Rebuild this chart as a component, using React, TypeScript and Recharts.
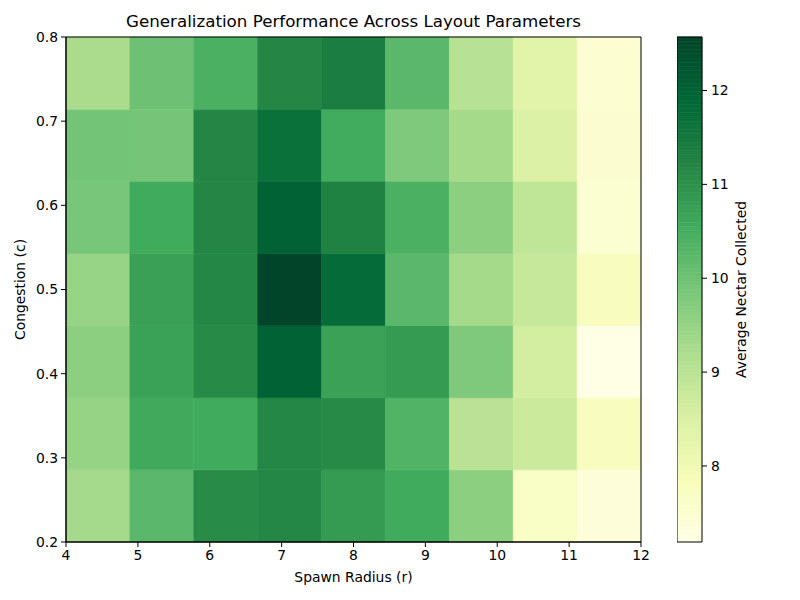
import React from 'react';
import { ComposedChart, XAxis, YAxis, ReferenceArea, Label } from 'recharts';

// spawn radius ticks (x) and congestion ticks (y)
const radiusTicks = [4, 5, 6, 7, 8, 9, 10, 11, 12];
const congestionTicks = [0.2, 0.3, 0.4, 0.5, 0.6, 0.7, 0.8];
const cbTicks = [8, 9, 10, 11, 12];

// average nectar collected, one row per congestion bin (bottom -> top), 9 radius bins each
const row020 = [9.31, 10.23, 11.1, 11.18, 10.83, 10.55, 9.63, 7.66, 7.37];
const row030 = [9.5, 10.58, 10.55, 11.17, 11.12, 10.36, 9.02, 8.75, 7.78];
const row040 = [9.63, 10.71, 11.12, 12.01, 10.72, 10.83, 9.8, 8.61, 7.19];
const row050 = [9.48, 10.74, 11.18, 12.57, 11.8, 10.23, 9.29, 8.82, 7.78];
const row060 = [9.88, 10.55, 11.2, 12.01, 11.28, 10.42, 9.63, 8.93, 7.5];
const row070 = [9.93, 9.92, 11.2, 11.68, 10.54, 9.8, 9.29, 8.47, 7.54];
const row080 = [9.23, 10.0, 10.43, 11.2, 11.37, 10.23, 9.04, 8.33, 7.48];

const rows = [row020, row030, row040, row050, row060, row070, row080];

const xMin = 4, xMax = 12, yMin = 0.2, yMax = 0.8;
const nCols = 9, nRows = 7;
const colEdges = Array.from({ length: nCols + 1 }, (_, i) => xMin + (i * (xMax - xMin)) / nCols);
const rowEdges = Array.from({ length: nRows + 1 }, (_, i) => yMin + (i * (yMax - yMin)) / nRows);

const allVals = rows.flat();
const vMin = Math.min(...allVals);
const vMax = Math.max(...allVals);

// YlGn colormap anchors
const ylgn = ['#ffffe5', '#f7fcb9', '#d9f0a3', '#addd8e', '#78c679', '#41ab5d', '#238443', '#006837', '#004529'];

const hexToRgb = (h: string) => [1, 3, 5].map((i) => parseInt(h.slice(i, i + 2), 16));

const colorFor = (v: number) => {
  let t = (v - vMin) / (vMax - vMin);
  t = Math.max(0, Math.min(1, t));
  const pos = t * (ylgn.length - 1);
  const i = Math.min(Math.floor(pos), ylgn.length - 2);
  const f = pos - i;
  const a = hexToRgb(ylgn[i]);
  const b = hexToRgb(ylgn[i + 1]);
  const c = a.map((x, k) => Math.round(x + (b[k] - x) * f));
  return `rgb(${c[0]},${c[1]},${c[2]})`;
};

const font = 'DejaVu Sans, sans-serif';
const tickStyle = { fill: '#000', fontSize: 13.9, fontFamily: font };

const cells = rows.flatMap((row, r) =>
  row.map((v, c) => ({ x1: colEdges[c], x2: colEdges[c + 1], y1: rowEdges[r], y2: rowEdges[r + 1], fill: colorFor(v) }))
);

// colorbar strip: thin slices from vMin to vMax
const cbSteps = 120;
const cbSlices = Array.from({ length: cbSteps }, (_, i) => {
  const a = vMin + ((vMax - vMin) * i) / cbSteps;
  const b = vMin + ((vMax - vMin) * (i + 1)) / cbSteps;
  return { y1: a, y2: b, fill: colorFor((a + b) / 2) };
});

const App = () => {
  return (
    <div style={{ position: 'absolute', left: 0, top: 0, width: 800, height: 600, background: '#fff' }}>
      <div
        style={{
          position: 'absolute', left: 66, top: 11, width: 575, textAlign: 'center',
          fontFamily: font, fontSize: 16.7, color: '#000',
        }}
      >
        Generalization Performance Across Layout Parameters
      </div>
      <div style={{ position: 'absolute', left: 0, top: 0 }}>
        <ComposedChart width={800} height={600} margin={{ top: 37, right: 159, bottom: 16, left: 0 }}>
          <XAxis
            type="number" dataKey="x" domain={[xMin, xMax]} ticks={radiusTicks} allowDataOverflow
            height={42} tickSize={5} tickMargin={3} tick={tickStyle}
            stroke="#000" tickLine={{ stroke: '#000' }}
          >
            <Label value="Spawn Radius (r)" position="insideBottom" offset={2} style={{ fill: '#000', fontSize: 13.9, fontFamily: font }} />
          </XAxis>
          <YAxis
            type="number" dataKey="y" domain={[yMin, yMax]} ticks={congestionTicks} allowDataOverflow
            width={66} tickSize={5} tickMargin={3} tick={tickStyle}
            tickFormatter={(v: number) => v.toFixed(1)}
            stroke="#000" tickLine={{ stroke: '#000' }}
          >
            <Label value="Congestion (c)" angle={-90} position="center" dx={-13} style={{ fill: '#000', fontSize: 13.9, fontFamily: font, textAnchor: 'middle' }} />
          </YAxis>
          {cells.map((c, i) => (
            <ReferenceArea
              key={i} x1={c.x1} x2={c.x2} y1={c.y1} y2={c.y2}
              fill={c.fill} fillOpacity={1} stroke={c.fill} strokeWidth={0.6} ifOverflow="visible"
            />
          ))}
          <ReferenceArea x1={xMin} x2={xMax} y1={yMin} y2={yMax} fill="none" fillOpacity={0} stroke="#000" strokeWidth={1} ifOverflow="visible" />
        </ComposedChart>
      </div>
      <div style={{ position: 'absolute', left: 677, top: 0 }}>
        <ComposedChart width={123} height={600} margin={{ top: 37, right: 0, bottom: 58, left: 0 }}>
          <XAxis type="number" dataKey="x" domain={[0, 1]} allowDataOverflow hide />
          <YAxis
            type="number" dataKey="v" orientation="right" domain={[vMin, vMax]} ticks={cbTicks} allowDataOverflow
            width={98} tickSize={5} tickMargin={4} tick={tickStyle}
            axisLine={false} tickLine={{ stroke: '#000' }}
          >
            <Label value="Average Nectar Collected" angle={-90} position="center" dx={-10} style={{ fill: '#000', fontSize: 13.9, fontFamily: font, textAnchor: 'middle' }} />
          </YAxis>
          {cbSlices.map((s, i) => (
            <ReferenceArea
              key={i} x1={0} x2={1} y1={s.y1} y2={s.y2}
              fill={s.fill} fillOpacity={1} stroke={s.fill} strokeWidth={0.6} ifOverflow="visible"
            />
          ))}
          <ReferenceArea x1={0} x2={1} y1={vMin} y2={vMax} fill="none" fillOpacity={0} stroke="#000" strokeWidth={1} ifOverflow="visible" />
        </ComposedChart>
      </div>
    </div>
  );
};

export default App;
